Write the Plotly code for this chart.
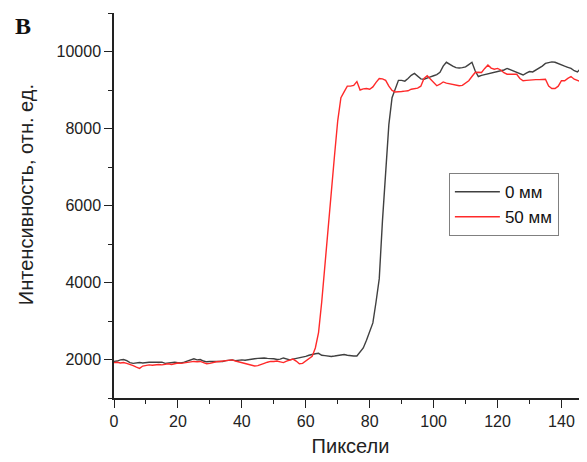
import plotly.graph_objects as go

pixels = list(range(0, 149))

intensity_0mm = [
    1950, 1960, 1990, 2000, 1970, 1920, 1900, 1910, 1920, 1910,
    1930, 1930, 1930, 1930, 1930, 1930, 1900, 1910, 1920, 1930,
    1920, 1910, 1930, 1960, 1990, 2020, 1990, 2000, 1960, 1940,
    1950, 1950, 1960, 1950, 1950, 1970, 1980, 1990, 1970, 1980,
    1990, 1980, 2000, 2010, 2020, 2030, 2040, 2040, 2030, 2030,
    2020, 2000, 2010, 2040, 2020, 1990, 2010, 2030, 2050, 2050,
    2080, 2110, 2140, 2150, 2160, 2110, 2100, 2090, 2080, 2090,
    2100, 2110, 2130, 2110, 2090, 2090, 2090, 2200, 2300, 2500,
    2700, 2950, 3500, 4100, 5600, 7000, 8100, 8800, 9050, 9250,
    9250, 9230, 9300, 9380, 9430, 9350, 9290, 9280, 9320, 9340,
    9370, 9400, 9460, 9620, 9720, 9660, 9620, 9580, 9570, 9580,
    9600, 9660, 9720, 9500, 9350, 9380, 9400, 9420, 9440, 9450,
    9460, 9480, 9520, 9560, 9530, 9500, 9460, 9420, 9390, 9440,
    9480, 9470, 9520, 9560, 9620, 9690, 9720, 9730, 9720, 9680,
    9650, 9620, 9590, 9560, 9500, 9470, 9560, 9650, 9680,
]

intensity_50mm = [
    1920, 1930, 1910, 1920, 1900, 1880, 1840, 1800, 1770, 1830,
    1850, 1860, 1850, 1860, 1870, 1860, 1880, 1890, 1870, 1900,
    1910, 1900, 1910, 1920, 1940, 1950, 1940, 1950, 1920, 1890,
    1900, 1930, 1940, 1950, 1960, 1970, 1980, 1990, 1960, 1940,
    1920, 1900, 1860, 1840, 1830, 1840, 1860, 1900, 1930, 1950,
    1950, 1960, 1940, 1920, 1960, 1990, 2010, 1960, 1890, 1900,
    1960, 2030, 2080, 2300, 2700, 3500, 4500, 5300, 6400, 7300,
    8200, 8800, 8950, 9100, 9100, 9120, 9220, 9000, 9030, 9040,
    9020, 9080, 9200, 9300, 9290, 9250, 9100, 8990, 8950, 8950,
    8960, 8970, 8980, 9020, 9040, 9050, 9100, 9300, 9370, 9280,
    9180, 9110, 9150, 9210, 9180, 9160, 9150, 9120, 9110, 9120,
    9170, 9240, 9350, 9455, 9460, 9455, 9560, 9650, 9570, 9540,
    9560, 9520, 9450, 9410, 9410, 9410, 9410, 9300, 9240, 9250,
    9260, 9260, 9270, 9270, 9280, 9280, 9100, 9040, 9040, 9100,
    9240, 9240, 9300, 9350, 9280, 9240, 9220, 9260, 9300,
]

series_names = ["0 мм", "50 мм"]
x_ticks = [0, 20, 40, 60, 80, 100, 120, 140]
y_ticks = [2000, 4000, 6000, 8000, 10000]
y_tick_labels = ["2000", "4000", "6000", "8000", "10000"]
y_title = "Интенсивность, отн. ед."
x_title = "Пиксели"
panel_label = "B"

fig = go.Figure()
fig.add_trace(go.Scatter(x=pixels, y=intensity_0mm, mode="lines", name=series_names[0],
                         line=dict(color="#404040", width=1.4)))
fig.add_trace(go.Scatter(x=pixels, y=intensity_50mm, mode="lines", name=series_names[1],
                         line=dict(color="#ff2a2a", width=1.4)))

sans = "Liberation Sans, Arial, sans-serif"
axis_font = dict(family=sans, size=16, color="#222222")

fig.update_layout(
    width=579, height=454,
    margin=dict(l=106, r=0, t=5, b=64),
    paper_bgcolor="white", plot_bgcolor="white",
    showlegend=True,
    legend=dict(x=0.708, y=0.584, xanchor="left", yanchor="top",
                bordercolor="#808080", borderwidth=1, bgcolor="white",
                font=dict(family=sans, size=17, color="#111111"),
                tracegroupgap=0, itemwidth=45),
    font=axis_font,
)

fig.update_xaxes(
    range=[0, 148], tickvals=x_ticks, showgrid=False, zeroline=False, automargin=False,
    showline=True, linecolor="#222222", linewidth=1.5,
    ticks="outside", ticklen=8, tickwidth=1.3, tickcolor="#222222",
    minor=dict(dtick=10, ticks="outside", ticklen=4, tickwidth=1.2, tickcolor="#222222"),
    tickfont=axis_font,
    title=dict(text=x_title, font=dict(family=sans, size=20, color="#222222"), standoff=10),
)
fig.update_yaxes(
    range=[1000, 11000], tickvals=y_ticks, ticktext=y_tick_labels, showgrid=False, zeroline=False,
    automargin=False,
    showline=True, linecolor="#222222", linewidth=1.5,
    ticks="outside", ticklen=8, tickwidth=1.3, tickcolor="#222222",
    minor=dict(dtick=1000, tick0=1000, ticks="outside", ticklen=4, tickwidth=1.2, tickcolor="#222222"),
    tickfont=axis_font,
)

fig.add_annotation(text=y_title, xref="paper", yref="paper", x=-0.186, y=0.527,
                   xanchor="center", yanchor="middle", textangle=-90, showarrow=False,
                   font=dict(family=sans, size=20, color="#222222"))

fig.add_annotation(text="<b>" + panel_label + "</b>", xref="paper", yref="paper", x=-0.214, y=0.9675,
                   xanchor="left", yanchor="middle", showarrow=False,
                   font=dict(family="Liberation Serif, DejaVu Serif, serif", size=24, color="#111111"))

fig.write_html("out.html")
